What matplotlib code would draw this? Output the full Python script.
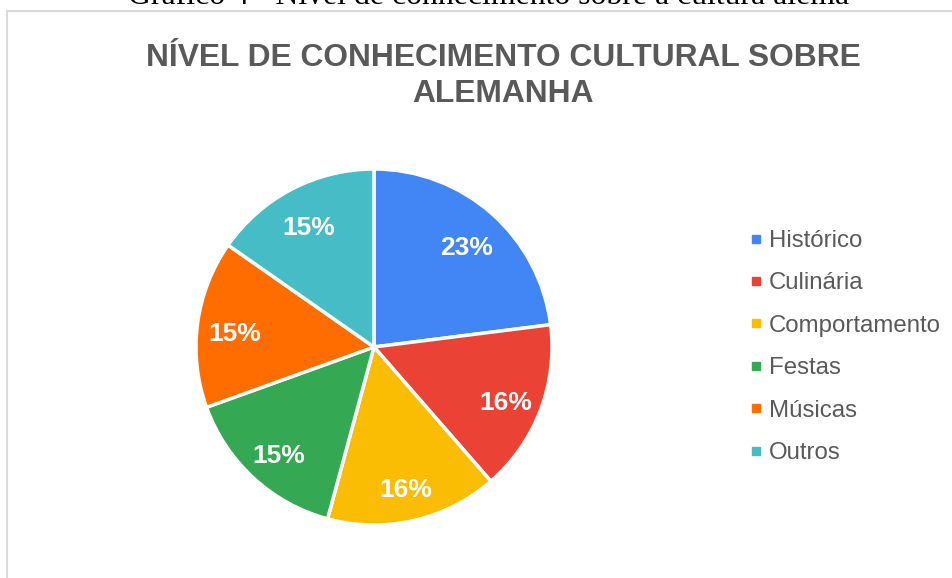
import matplotlib
matplotlib.use("Agg")
import matplotlib.pyplot as plt
from matplotlib.lines import Line2D
from matplotlib.patches import Rectangle

categories = ["Histórico", "Culinária", "Comportamento", "Festas", "Músicas", "Outros"]
values = [23.0, 15.6, 15.6, 15.3, 15.2, 15.3]
colors = ["#4285F4", "#EA4335", "#FBBC04", "#34A853", "#FF6D01", "#46BDC6"]

W, H = 952, 578
fig = plt.figure(figsize=(W / 100, H / 100), dpi=100)
fig.patch.set_facecolor("white")

# chart frame (partially cropped)
fig.patches.append(Rectangle((7 / W, -0.1), 1.2, 1.1 - 11 / H,
                             transform=fig.transFigure, fill=False,
                             edgecolor="#d9d9d9", lw=1.5))

# cut-off caption at very top
fig.text(489 / W, 1 - 4 / H, "Gráfico 4 - Nível de conhecimento sobre a cultura alemã",
         ha="center", va="baseline", fontsize=22.9, family="Liberation Serif",
         color="black")

fig.text(503 / W, 1 - 76 / H, "NÍVEL DE CONHECIMENTO CULTURAL SOBRE\nALEMANHA",
         ha="center", va="center", fontsize=22.9, fontweight="bold",
         family="Liberation Sans", color="#595959", linespacing=1.22)

cx, cy, r = 374, 347, 178
ax = fig.add_axes([(cx - r) / W, 1 - (cy + r) / H, 2 * r / W, 2 * r / H])
wedges, texts, autotexts = ax.pie(
    values, colors=colors, startangle=90, counterclock=False,
    autopct="%1.0f%%", pctdistance=0.79, radius=1.0,
    wedgeprops=dict(edgecolor="white", linewidth=2.5),
    textprops=dict(color="white", fontsize=19, fontweight="bold",
                   family="Liberation Sans"))
# labels sit a little lower in the original
for t in autotexts:
    x, y = t.get_position()
    t.set_position((x, y - 6 / r))
ax.set_xlim(-1, 1)
ax.set_ylim(-1, 1)
ax.set_aspect("equal")
ax.axis("off")

handles = [Line2D([0], [0], marker="s", color="w", markerfacecolor=c,
                  markeredgecolor=c, markersize=5.2, linestyle="")
           for c in colors]
leg = fig.legend(handles, categories, loc="center left",
                 bbox_to_anchor=(750 / W, 1 - 347 / H), frameon=False,
                 prop=dict(family="Liberation Sans", size=17.3),
                 handlelength=0.5, handletextpad=0.3, labelspacing=0.85,
                 borderaxespad=0, borderpad=0)
for t in leg.get_texts():
    t.set_color("#595959")

fig.savefig("out.png", dpi=100)
